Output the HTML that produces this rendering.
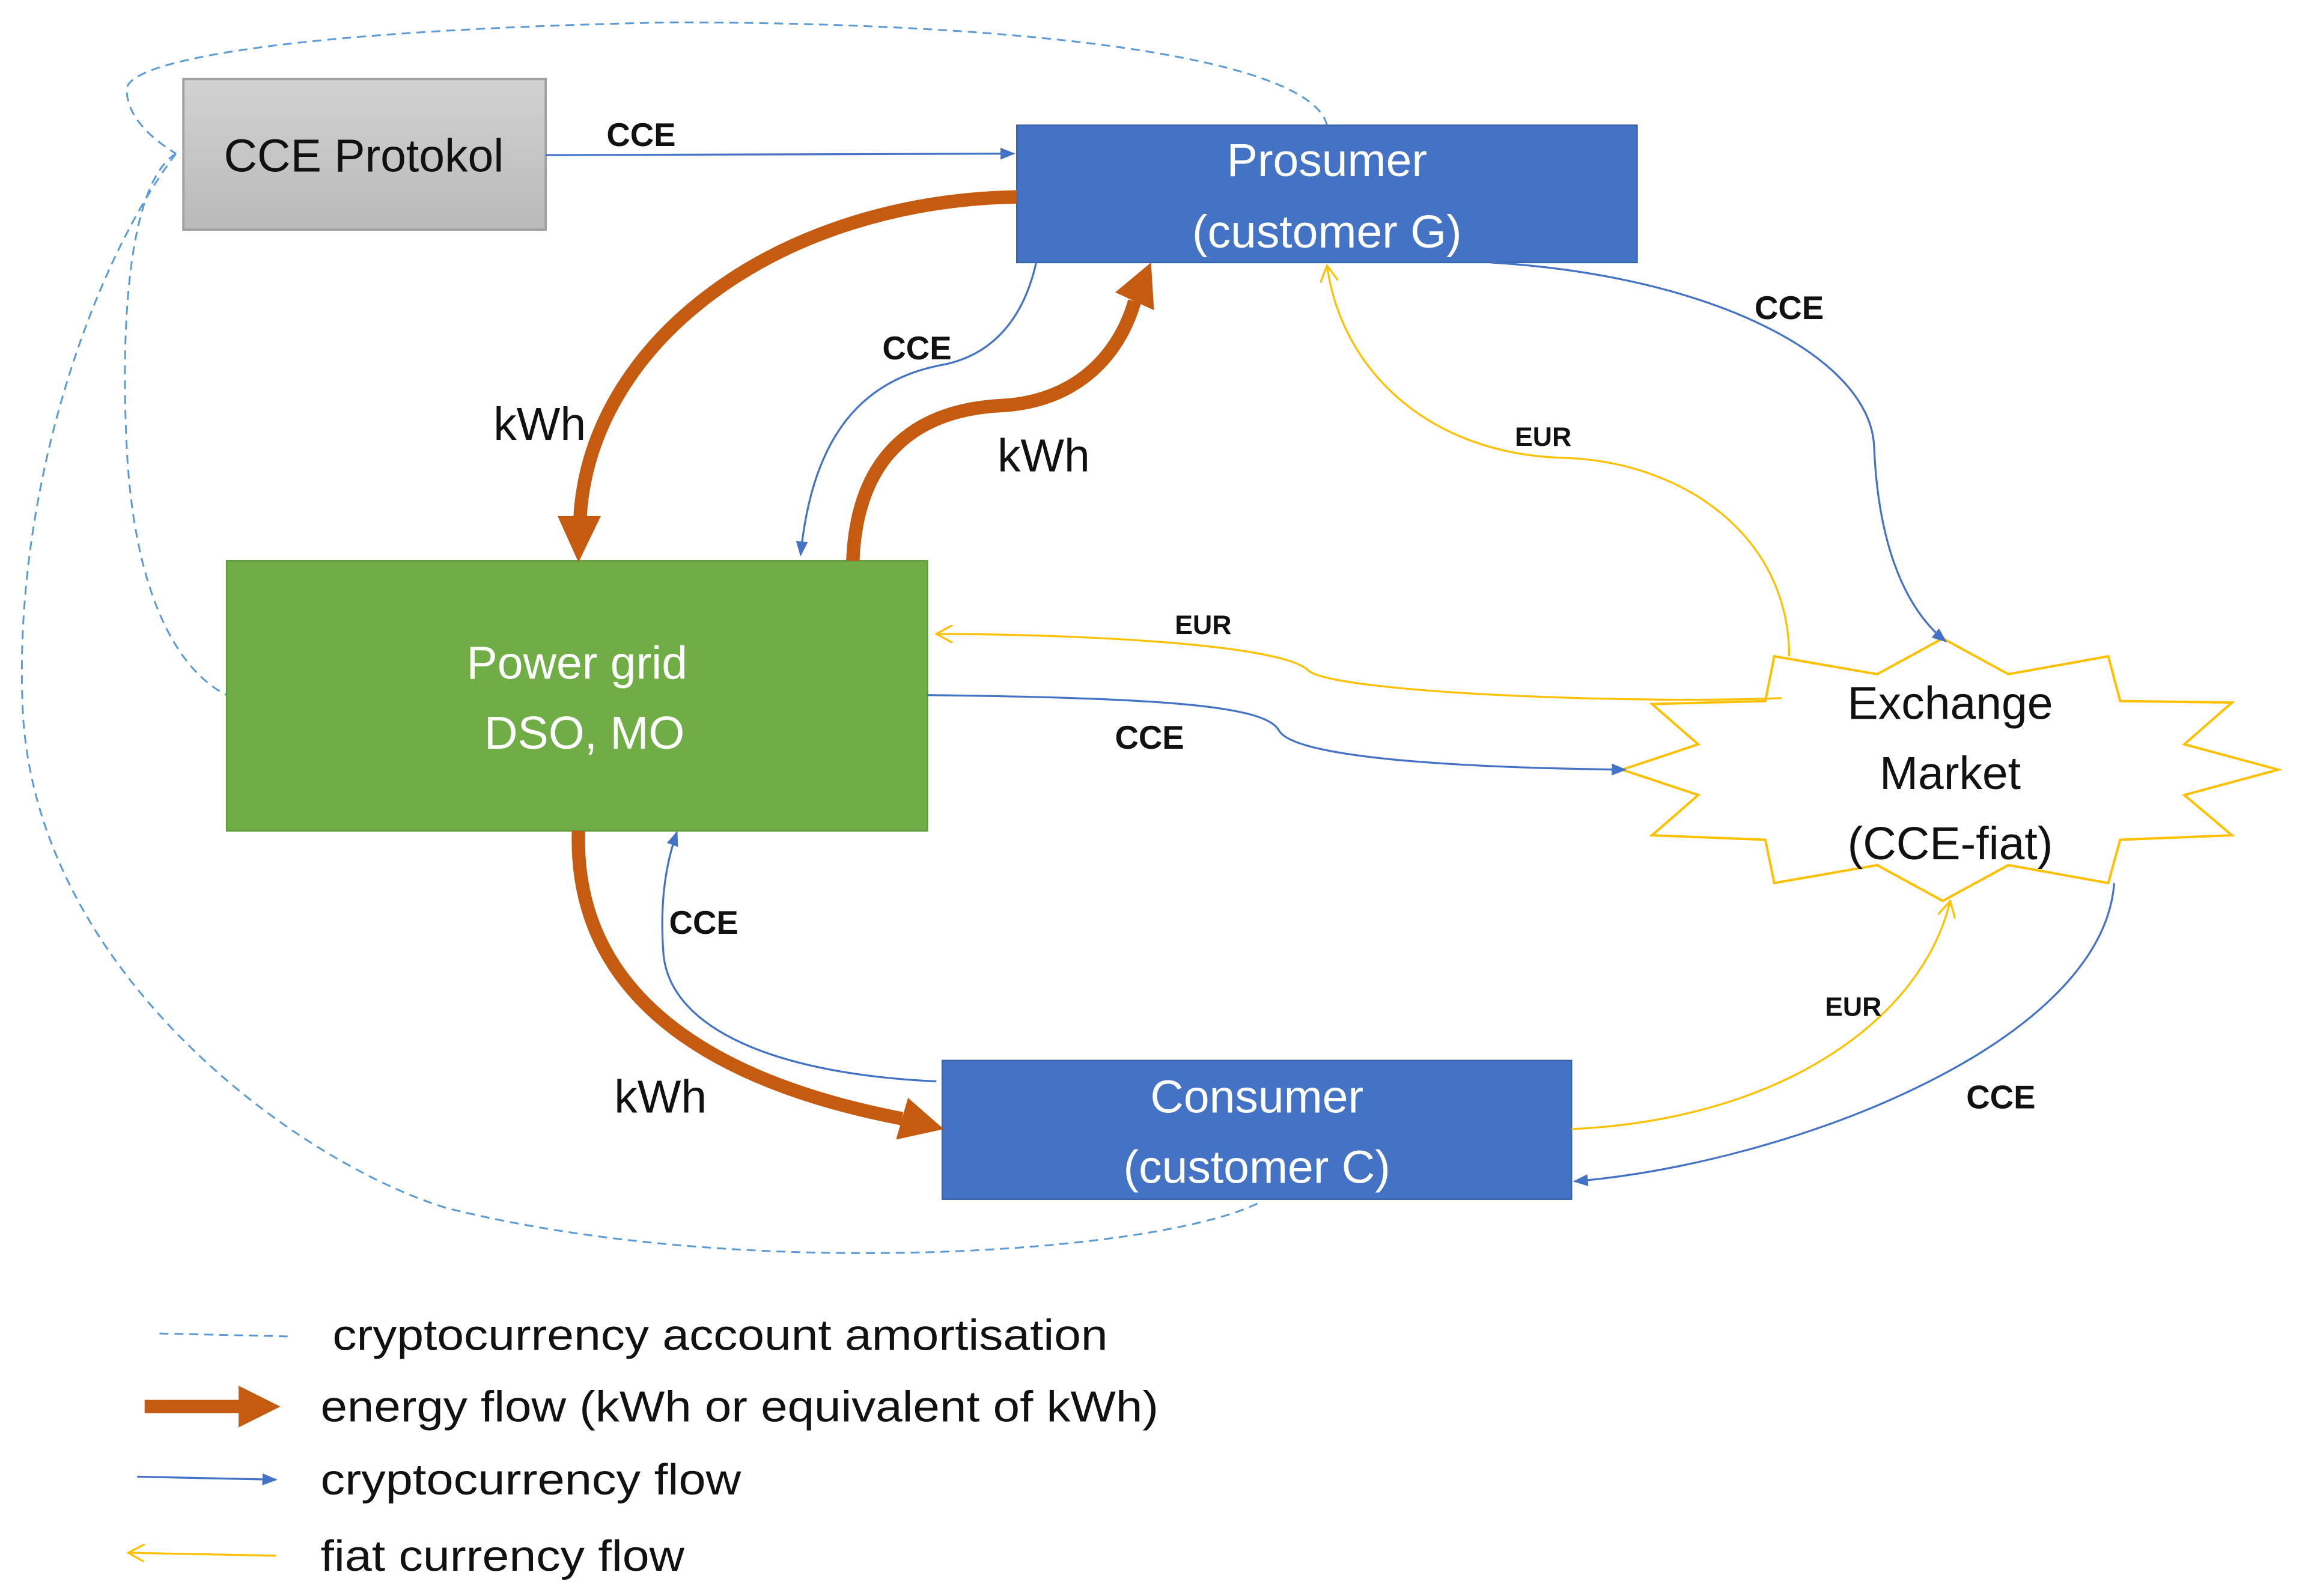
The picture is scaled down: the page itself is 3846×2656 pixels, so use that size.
<!DOCTYPE html>
<html><head><meta charset="utf-8"><style>html,body{margin:0;padding:0;background:#fff}svg{display:block}</style></head>
<body>
<svg width="3846" height="2656" viewBox="0 0 1550 1070" preserveAspectRatio="none" xmlns="http://www.w3.org/2000/svg" font-family="'Liberation Sans', sans-serif">
<defs>
<linearGradient id="g" x1="0" y1="0" x2="0" y2="1"><stop offset="0" stop-color="#d2d2d2"/><stop offset="1" stop-color="#b9b9b9"/></linearGradient>
<marker id="bl" markerWidth="10" markerHeight="8" refX="9" refY="4" orient="auto" markerUnits="userSpaceOnUse"><path d="M0,0 L10,4 L0,8 z" fill="#4472c4"/></marker>
<marker id="yl" markerWidth="12" markerHeight="12" refX="11" refY="6" orient="auto" markerUnits="userSpaceOnUse"><path d="M0,0 L11,6 L0,12" fill="none" stroke="#ffc000" stroke-width="1.3"/></marker>
</defs>
<g fill="none" stroke="#5b9bd5" stroke-width="1.2" stroke-dasharray="6,4">
<path d="M890,84 C880,40 700,15 450,15 C200,20 85,40 85,60 C85,80 105,95 118,103"/>
<path d="M118,103 C90,120 80,200 85,300 C90,400 120,450 152,466"/>
<path d="M118,103 C60,180 10,330 15,470 C20,650 200,780 300,810 C500,860 780,840 845,806"/>
</g>
<rect x="123" y="53" width="243" height="101" fill="url(#g)" stroke="#a0a0a0" stroke-width="1.5"/>
<text x="244" y="115" font-size="31" text-anchor="middle" fill="#111">CCE Protokol</text>
<rect x="682" y="84" width="416" height="92" fill="#4472c4" stroke="#3a63ad" stroke-width="1"/>
<text x="890" y="118" font-size="31" text-anchor="middle" fill="#fff">Prosumer</text>
<text x="890" y="166" font-size="31" text-anchor="middle" fill="#fff">(customer G)</text>
<rect x="152" y="376" width="470" height="181" fill="#70ad47" stroke="#5f9a3b" stroke-width="1"/>
<text x="387" y="455" font-size="31" text-anchor="middle" fill="#fff">Power grid</text>
<text x="392" y="502" font-size="31" text-anchor="middle" fill="#fff">DSO, MO</text>
<rect x="632" y="711" width="422" height="93" fill="#4472c4" stroke="#3a63ad" stroke-width="1"/>
<text x="843" y="746" font-size="31" text-anchor="middle" fill="#fff">Consumer</text>
<text x="843" y="793" font-size="31" text-anchor="middle" fill="#fff">(customer C)</text>
<polygon fill="#fff" stroke="#ffc000" stroke-width="1.6" points="1303,428 1347,452 1414,440 1422,470 1497,471 1465,499 1528,516 1465,533 1497,560 1422,563 1414,592 1347,580 1303,604 1259,580 1190,592 1184,563 1108,560 1139,533 1088,516 1139,499 1108,472 1184,470 1190,440 1259,452"/>
<text x="1308" y="482" font-size="31" text-anchor="middle" fill="#111">Exchange</text>
<text x="1308" y="529" font-size="31" text-anchor="middle" fill="#111">Market</text>
<text x="1308" y="576" font-size="31" text-anchor="middle" fill="#111">(CCE-fiat)</text>
<g fill="none" stroke="#4472c4" stroke-width="1.3">
<path d="M366,104 L680,103" marker-end="url(#bl)"/>
<path d="M695,176 C685,220 660,240 630,245 C580,255 545,290 537,372" marker-end="url(#bl)"/>
<path d="M1000,176 C1150,185 1255,240 1257,300 C1260,370 1280,410 1305,430" marker-end="url(#bl)"/>
<path d="M622,466 C800,468 850,475 858,490 C870,510 1000,515 1090,516" marker-end="url(#bl)"/>
<path d="M628,725 C520,720 450,690 445,640 C442,600 448,575 454,558" marker-end="url(#bl)"/>
<path d="M1418,592 C1410,700 1200,780 1056,792" marker-end="url(#bl)"/>
</g>
<g fill="none" stroke="#ffc000" stroke-width="1.3">
<path d="M1200,440 C1200,360 1130,310 1050,307 C960,305 900,250 890,178" marker-end="url(#yl)"/>
<path d="M1195,468 C1100,472 900,465 878,450 C860,430 700,425 628,425" marker-end="url(#yl)"/>
<path d="M1054,757 C1200,750 1290,680 1308,604" marker-end="url(#yl)"/>
</g>
<g fill="none" stroke="#c55a11" stroke-width="9">
<path d="M682,132 C520,135 395,230 389,348"/>
<path d="M572,376 C575,300 620,275 670,272 C720,270 750,240 761,202"/>
<path d="M388,557 C385,650 450,720 605,750"/>
<path d="M97,943 L162,943"/>
</g>
<g fill="#c55a11">
<polygon points="374,346 403,346 388,377"/>
<polygon points="774,208 748,196 772,176"/>
<polygon points="601,764 609,736 633,757"/>
<polygon points="160,929 188,943 160,957"/>
</g>
<g font-size="22" font-weight="bold" text-anchor="middle" fill="#111">
<text x="430" y="98">CCE</text>
<text x="615" y="241">CCE</text>
<text x="1200" y="214">CCE</text>
<text x="771" y="502">CCE</text>
<text x="472" y="626">CCE</text>
<text x="1342" y="743">CCE</text>
</g>
<g font-size="18" font-weight="bold" text-anchor="middle" fill="#111">
<text x="1035" y="299">EUR</text>
<text x="807" y="425">EUR</text>
<text x="1243" y="681">EUR</text>
</g>
<g font-size="31" text-anchor="middle" fill="#111">
<text x="362" y="295">kWh</text>
<text x="700" y="316">kWh</text>
<text x="443" y="746">kWh</text>
</g>
<path d="M107,894 L195,896" fill="none" stroke="#5b9bd5" stroke-width="1.2" stroke-dasharray="6,4"/>
<path d="M92,990 L185,992" fill="none" stroke="#4472c4" stroke-width="1.3" marker-end="url(#bl)"/>
<path d="M185,1043 L86,1041" fill="none" stroke="#ffc000" stroke-width="1.3" marker-end="url(#yl)"/>
<g font-size="29" fill="#111">
<text x="223" y="905" textLength="520" lengthAdjust="spacingAndGlyphs">cryptocurrency account amortisation</text>
<text x="215" y="953" textLength="562" lengthAdjust="spacingAndGlyphs">energy flow (kWh or equivalent of kWh)</text>
<text x="215" y="1002" textLength="282" lengthAdjust="spacingAndGlyphs">cryptocurrency flow</text>
<text x="215" y="1053" textLength="244" lengthAdjust="spacingAndGlyphs">fiat currency flow</text>
</g>
</svg>
</body></html>
